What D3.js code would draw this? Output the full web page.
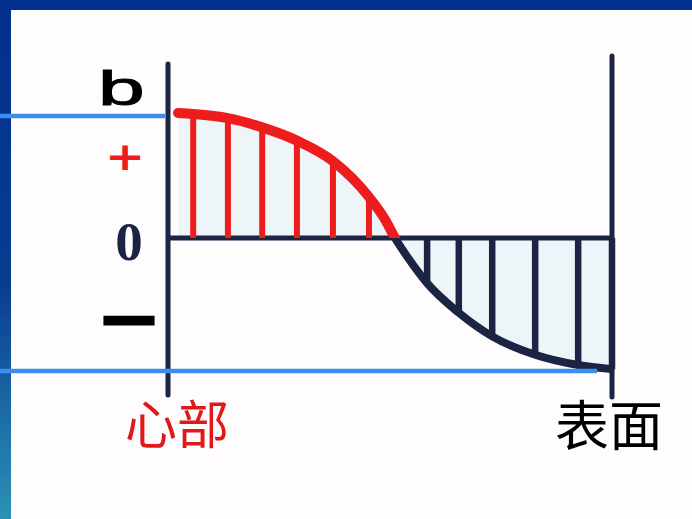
<!DOCTYPE html>
<html>
<head>
<meta charset="utf-8">
<script src="https://cdn.jsdelivr.net/npm/d3@7"></script>
<style>
  html, body { margin: 0; padding: 0; background: #fffcfd; }
  svg { display: block; }
</style>
</head>
<body>
<div id="chart"></div>
<script>
// Position from the core (0) to the surface (1), and relative stress
const position = [0, 0.035, 0.115, 0.194, 0.274, 0.357, 0.440, 0.477, 0.500, 0.528, 0.574, 0.647, 0.724, 0.823, 0.922, 1];
const stress = [1.0, 0.992, 0.959, 0.885, 0.779, 0.615, 0.328, 0.148, 0, -0.148, -0.361, -0.598, -0.787, -0.934, -1.016, -1.049];
// Which points get a vertical hatch line
const hatched = [false, true, true, true, true, true, true, false, false, false, true, true, true, true, true, true];

// Labels
const axisLabel = "b";
const plusLabel = "+";
const zeroLabel = "0";
const minusLabel = "—";
const coreLabel = "心部";
const surfaceLabel = "表面";

const width = 692;
const height = 519;

const navy = "#1c2444";
const red = "#ee1c1c";
const fillColor = "#eef5f8";

const svg = d3.select("#chart")
  .append("svg")
  .attr("width", width)
  .attr("height", height);

// Frame: blue bands top and left
const defs = svg.append("defs");
const grad = defs.append("linearGradient")
  .attr("id", "band")
  .attr("x1", 0).attr("y1", 0).attr("x2", 0).attr("y2", 1);
grad.append("stop").attr("offset", "0%").attr("stop-color", "#00308c");
grad.append("stop").attr("offset", "55%").attr("stop-color", "#0a3c92");
grad.append("stop").attr("offset", "100%").attr("stop-color", "#2a92b6");

svg.append("rect").attr("width", width).attr("height", height).attr("fill", "#fffcfd");
svg.append("rect").attr("width", width).attr("height", 10).attr("fill", "#00308c");
svg.append("rect").attr("width", 11).attr("height", height).attr("fill", "url(#band)");

// Scales
const x = d3.scaleLinear().domain([0, 1]).range([178, 612]);
const y = d3.scaleLinear().domain([0, 1]).range([238, 113]);

defs.append("clipPath").attr("id", "above")
  .append("rect").attr("x", 0).attr("y", 0).attr("width", width).attr("height", y(0));
defs.append("clipPath").attr("id", "below")
  .append("rect").attr("x", 0).attr("y", y(0)).attr("width", width).attr("height", height);

const pts = position.map((p, i) => ({ p, s: stress[i], h: hatched[i] }));

const area = d3.area()
  .x(d => x(d.p))
  .y0(y(0))
  .y1(d => y(d.s))
  .curve(d3.curveMonotoneX);

const line = d3.line()
  .x(d => x(d.p))
  .y(d => y(d.s))
  .curve(d3.curveMonotoneX);

// light fill
svg.append("path").datum(pts).attr("d", area).attr("fill", fillColor);

// zero line
svg.append("line")
  .attr("x1", 166).attr("x2", x(1))
  .attr("y1", y(0)).attr("y2", y(0))
  .attr("stroke", navy).attr("stroke-width", 5);

// hatches
svg.selectAll(".hatch")
  .data(pts.filter(d => d.h))
  .enter()
  .append("line")
  .attr("class", "hatch")
  .attr("x1", d => x(d.p)).attr("x2", d => x(d.p))
  .attr("y1", d => y(d.s)).attr("y2", y(0))
  .attr("stroke", d => d.s > 0 ? red : navy)
  .attr("stroke-width", d => d.s > 0 ? 6 : 6.5);

// curve: red above zero, navy below
svg.append("path").datum(pts).attr("d", line)
  .attr("fill", "none").attr("stroke", red).attr("stroke-width", 10)
  .attr("stroke-linecap", "round")
  .attr("clip-path", "url(#above)");
svg.append("path").datum(pts).attr("d", line)
  .attr("fill", "none").attr("stroke", navy).attr("stroke-width", 8)
  .attr("clip-path", "url(#below)");

// vertical axes at core and surface
svg.append("line")
  .attr("x1", 168).attr("x2", 168).attr("y1", 64).attr("y2", 395)
  .attr("stroke", navy).attr("stroke-width", 5).attr("stroke-linecap", "round");
svg.append("line")
  .attr("x1", x(1)).attr("x2", x(1)).attr("y1", 56).attr("y2", 397)
  .attr("stroke", navy).attr("stroke-width", 5).attr("stroke-linecap", "round");

// blue reference lines (max tension / max compression)
svg.append("line")
  .attr("x1", 0).attr("x2", 165).attr("y1", 116).attr("y2", 116)
  .attr("stroke", "#3b8ff0").attr("stroke-width", 4.5);
svg.append("line")
  .attr("x1", 0).attr("x2", 597).attr("y1", 371).attr("y2", 371)
  .attr("stroke", "#3b8ff0").attr("stroke-width", 4.5);

// labels
svg.append("text")
  .attr("transform", "translate(98,105) scale(1.75,1)")
  .attr("font-family", "Liberation Sans, Arial, sans-serif")
  .attr("font-size", 48)
  .attr("stroke", "#000").attr("stroke-width", 1)
  .attr("fill", "#000").text(axisLabel);

svg.append("text")
  .attr("transform", "translate(125,157) scale(1,0.8)")
  .attr("text-anchor", "middle").attr("dominant-baseline", "central")
  .attr("font-family", "DejaVu Sans, sans-serif")
  .attr("font-weight", "bold").attr("font-size", 48)
  .attr("fill", red).text(plusLabel);

svg.append("text")
  .attr("x", 129).attr("y", 260)
  .attr("text-anchor", "middle")
  .attr("font-family", "Liberation Serif, serif")
  .attr("font-weight", "bold").attr("font-size", 55)
  .attr("fill", navy).text(zeroLabel);

svg.append("text")
  .attr("x", 129).attr("y", 316)
  .attr("text-anchor", "middle").attr("dominant-baseline", "central")
  .attr("font-family", "DejaVu Sans, sans-serif")
  .attr("font-weight", "bold").attr("font-size", 54)
  .attr("stroke", "#000").attr("stroke-width", 3)
  .attr("fill", "#000").text(minusLabel);

svg.append("text")
  .attr("x", 177).attr("y", 421)
  .attr("text-anchor", "middle").attr("dominant-baseline", "central")
  .attr("font-family", "Noto Sans CJK SC, sans-serif")
  .attr("font-size", 52)
  .attr("fill", "#e01818").text(coreLabel);

svg.append("text")
  .attr("x", 609).attr("y", 422)
  .attr("text-anchor", "middle").attr("dominant-baseline", "central")
  .attr("font-family", "Noto Sans CJK SC, sans-serif")
  .attr("font-size", 54)
  .attr("fill", "#000").text(surfaceLabel);
</script>
</body>
</html>
